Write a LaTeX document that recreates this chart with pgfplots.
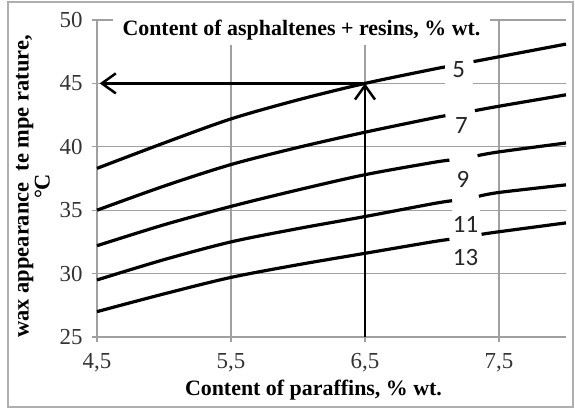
\documentclass[border=0pt]{standalone}
\usepackage{fontspec}
\setmainfont{Liberation Serif}
\newfontfamily\carlito{Carlito}
\newfontfamily\tickfont{Liberation Serif}
\usepackage{pgfplots}
\pgfplotsset{compat=1.18}
\usetikzlibrary{arrows.meta}
\definecolor{gridgray}{RGB}{160,160,160}
\definecolor{framegray}{RGB}{175,175,175}
\begin{document}
\begin{tikzpicture}
\path (-97bp,-72bp) rectangle (478bp,337bp);
\draw[framegray, line width=1.2bp] (-89bp,-70bp) rectangle (476bp,335bp);
\begin{axis}[
  scale only axis,
  width=469bp, height=317bp,
  xmin=4.5, xmax=8, ymin=25, ymax=50,
  clip=false,
  axis x line=bottom, axis y line=left,
  axis line style={-, gridgray, line width=1.3bp},
  xtick={4.5,5.5,6.5,7.5},
  xticklabels={{4,5},{5,5},{6,5},{7,5}},
  ytick={25,30,35,40,45,50},
  yticklabels={25,30,35,40,45,50},
  tick align=outside,
  major tick length=5bp,
  tick style={gridgray, line width=1.3bp},
  grid=major,
  major grid style={gridgray, line width=1.3bp},
  ticklabel style={font=\tickfont\fontsize{23}{24}\selectfont, text=black!80},
  xticklabel style={yshift=-8bp},
  yticklabel style={xshift=-6bp},
  xlabel={\textbf{Content of paraffins, \% wt.}},
  xlabel style={font=\fontsize{22}{23}\selectfont, at={(axis description cs:0.4616,-0.168)}, anchor=center},
  ylabel={\textbf{wax appearance~ te mpe rature,}\\\textbf{°C}},
  ylabel style={font=\fontsize{22.5}{21}\selectfont, align=center, at={(axis description cs:-0.1365,0.475)}, anchor=center, rotate=0},
]
% curve 5
\addplot[black, line width=3.2bp, smooth] coordinates {(4.5,38.3)(5,40.3)(5.5,42.2)(6,43.7)(6.5,45.0)(7,46.1)(7.1,46.3)};
\addplot[black, line width=3.2bp, smooth] coordinates {(7.31,46.72)(7.5,47.1)(8,48.1)};
% curve 7
\addplot[black, line width=3.2bp, smooth] coordinates {(4.5,35.0)(5,36.9)(5.5,38.6)(6,39.95)(6.5,41.15)(7,42.25)(7.1,42.45)};
\addplot[black, line width=3.2bp, smooth] coordinates {(7.32,42.85)(7.5,43.2)(8,44.1)};
% curve 9
\addplot[black, line width=3.2bp, smooth] coordinates {(4.5,32.2)(5,33.85)(5.5,35.3)(6,36.6)(6.5,37.8)(7,38.75)(7.13,38.95)};
\addplot[black, line width=3.2bp, smooth] coordinates {(7.34,39.3)(7.5,39.6)(8,40.3)};
% curve 11
\addplot[black, line width=3.2bp, smooth] coordinates {(4.5,29.5)(5,31.1)(5.5,32.5)(6,33.55)(6.5,34.5)(7,35.5)(7.15,35.75)};
\addplot[black, line width=3.2bp, smooth] coordinates {(7.35,36.1)(7.5,36.4)(8,37.0)};
% curve 13
\addplot[black, line width=3.2bp, smooth] coordinates {(4.5,27.0)(5,28.4)(5.5,29.7)(6,30.7)(6.5,31.6)(7,32.5)(7.13,32.7)};
\addplot[black, line width=3.2bp, smooth] coordinates {(7.37,33.1)(7.5,33.3)(8,34.0)};
% arrows
\addplot[black, line width=2.5bp, -{Straight Barb[length=14bp,width=20bp]}] coordinates {(6.5,25)(6.5,45)};
\addplot[black, line width=2.5bp, -{Straight Barb[length=14bp,width=20bp]}] coordinates {(6.5,45)(4.52,45)};
% labels
\node[fill=white, inner xsep=0pt, inner ysep=7bp, minimum width=28bp, font=\carlito\fontsize{25}{26}\selectfont, text=black!85] at (axis cs:7.20,46.1) {5};
\node[fill=white, inner xsep=0pt, inner ysep=7bp, minimum width=28bp, font=\carlito\fontsize{25}{26}\selectfont, text=black!85] at (axis cs:7.22,41.64) {7};
\node[fill=white, inner xsep=0pt, inner ysep=7bp, minimum width=28bp, font=\carlito\fontsize{25}{26}\selectfont, text=black!85] at (axis cs:7.23,37.4) {9};
\node[fill=white, inner xsep=0pt, inner ysep=7bp, minimum width=28bp, font=\carlito\fontsize{25}{26}\selectfont, text=black!85] at (axis cs:7.25,33.9) {11};
\node[fill=white, inner xsep=0pt, inner ysep=7bp, minimum width=28bp, font=\carlito\fontsize{25}{26}\selectfont, text=black!85] at (axis cs:7.25,31.27) {13};
% title
\node[fill=white, anchor=base, inner xsep=10bp, inner ysep=9bp, text depth=0pt, font=\fontsize{22}{23}\selectfont\bfseries] at (axis cs:6.026,48.74) {Content of asphaltenes + resins, \% wt.};
\end{axis}
\end{tikzpicture}
\end{document}
